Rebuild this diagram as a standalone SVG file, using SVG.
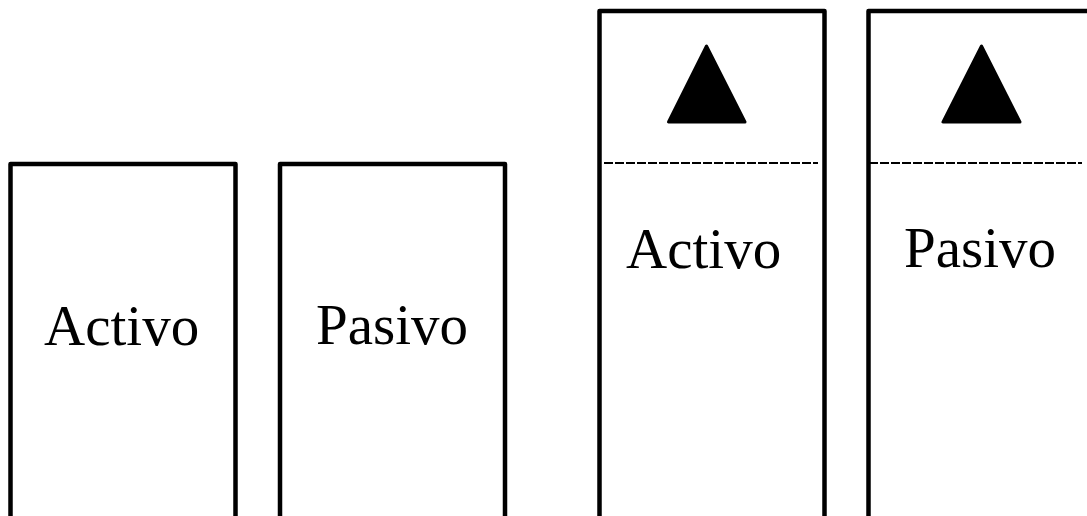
<svg xmlns="http://www.w3.org/2000/svg" width="1087" height="516" viewBox="0 0 1087 516">
<style>
.box{fill:none;stroke:#000;stroke-width:4.5;stroke-linejoin:round}
.sep{stroke:#000;stroke-width:1.8;stroke-dasharray:9 2}
.tri{fill:#000;stroke:#000;stroke-width:3;stroke-linejoin:round}
.lbl{font-family:"Liberation Serif","Times New Roman",serif;font-size:57px;fill:#000}
</style>
<rect width="1087" height="516" fill="#fff"/>
<g id="activo1">
<path class="box" d="M10.5,530 V164 H235.5 V530"/>
<text class="lbl" x="44" y="345">Activo</text>
</g>
<g id="pasivo1">
<path class="box" d="M280,530 V164 H505 V530"/>
<text class="lbl" x="316" y="344">Pasivo</text>
</g>
<g id="activo2">
<path class="box" d="M599.5,530 V11 H824.5 V530"/>
<line class="sep" x1="604" y1="163" x2="818" y2="163"/>
<polygon class="tri" points="706.5,46 668.5,122 745,122"/>
<text class="lbl" x="626" y="268">Activo</text>
</g>
<g id="pasivo2">
<path class="box" d="M868.5,530 V11 H1090"/>
<line class="sep" x1="869" y1="163" x2="1082" y2="163"/>
<polygon class="tri" points="981.5,46 943,122 1020,122"/>
<text class="lbl" x="904" y="267">Pasivo</text>
</g>
<g id="connectors"></g>
</svg>
